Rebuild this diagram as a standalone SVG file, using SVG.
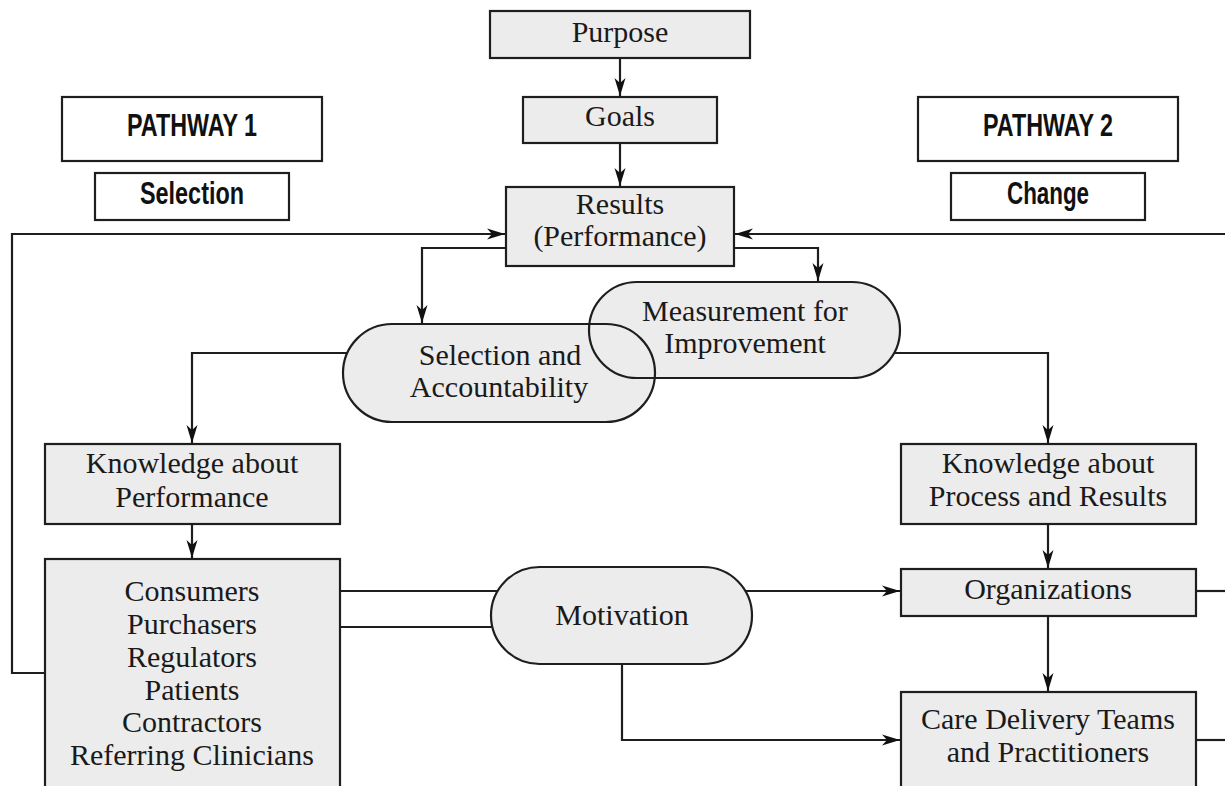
<svg xmlns="http://www.w3.org/2000/svg" width="1225" height="786" viewBox="0 0 1225 786">
<style>
.box{fill:#ececec;stroke:#1e1e1e;stroke-width:2.2}
.hdr{fill:#fff;stroke:#1e1e1e;stroke-width:2.2}
.edge{fill:none;stroke:#1e1e1e;stroke-width:2.2}
.t{font-family:"Liberation Serif","Times New Roman",serif;font-size:30px;fill:#1a1a1a;text-anchor:middle}
.h{font-family:"Liberation Sans Narrow","Liberation Sans",Arial,sans-serif;font-weight:bold;font-size:31px;fill:#111;text-anchor:middle}
</style>
<defs>
<marker id="arr" markerUnits="userSpaceOnUse" markerWidth="20" markerHeight="14" refX="18" refY="7" orient="auto">
<path d="M0,1.5 L18,7 L0,12.5 L5,7 z" fill="#111"/>
</marker>
</defs>
<rect width="1225" height="786" fill="#fff"/>
<g id="connectors">
<path class="edge" d="M620,58 V96" marker-end="url(#arr)"/>
<path class="edge" d="M620,143 V186" marker-end="url(#arr)"/>
<path class="edge" d="M45,673 H12 V234 H505" marker-end="url(#arr)"/>
<path class="edge" d="M1225,234 H735" marker-end="url(#arr)"/>
<path class="edge" d="M506,248 H422 V323" marker-end="url(#arr)"/>
<path class="edge" d="M734,248 H818 V281" marker-end="url(#arr)"/>
<path class="edge" d="M360,353 H192 V443" marker-end="url(#arr)"/>
<path class="edge" d="M880,353 H1048 V443" marker-end="url(#arr)"/>
<path class="edge" d="M192,524 V558" marker-end="url(#arr)"/>
<path class="edge" d="M1048,524 V568" marker-end="url(#arr)"/>
<path class="edge" d="M1048,616 V691" marker-end="url(#arr)"/>
<path class="edge" d="M340,591 H520"/>
<path class="edge" d="M340,627 H520"/>
<path class="edge" d="M730,591 H900" marker-end="url(#arr)"/>
<path class="edge" d="M622,650 V740 H900" marker-end="url(#arr)"/>
<path class="edge" d="M1196,591 H1225"/>
<path class="edge" d="M1196,740 H1225"/>
</g>
<g id="purpose"><rect class="box" x="490" y="11" width="260" height="47"/><text class="t" x="620" y="42">Purpose</text></g>
<g id="goals"><rect class="box" x="523" y="97" width="194" height="46"/><text class="t" x="620" y="126">Goals</text></g>
<g id="results"><rect class="box" x="506" y="187" width="228" height="79"/><text class="t" x="620" y="214">Results</text><text class="t" x="620" y="246">(Performance)</text></g>
<g id="pathway1"><rect class="hdr" x="62" y="97" width="260" height="64"/><text class="h" x="192" y="136" textLength="130" lengthAdjust="spacingAndGlyphs">PATHWAY 1</text></g>
<g id="selection"><rect class="hdr" x="95" y="173" width="194" height="47"/><text class="h" x="192" y="204" textLength="104" lengthAdjust="spacingAndGlyphs">Selection</text></g>
<g id="pathway2"><rect class="hdr" x="918" y="97" width="260" height="64"/><text class="h" x="1048" y="136" textLength="130" lengthAdjust="spacingAndGlyphs">PATHWAY 2</text></g>
<g id="change"><rect class="hdr" x="951" y="173" width="194" height="47"/><text class="h" x="1048" y="204" textLength="82" lengthAdjust="spacingAndGlyphs">Change</text></g>
<g id="ovals-fill">
<rect x="343" y="324" width="312" height="98" rx="49" fill="#ececec"/>
<rect x="589" y="282" width="311" height="96" rx="48" fill="#ececec"/>
</g>
<g id="selection-accountability"><rect class="edge" x="343" y="324" width="312" height="98" rx="49"/><text class="t" x="500" y="365">Selection and</text><text class="t" x="499" y="397">Accountability</text></g>
<g id="measurement"><rect class="edge" x="589" y="282" width="311" height="96" rx="48"/><text class="t" x="745" y="321">Measurement for</text><text class="t" x="745" y="353">Improvement</text></g>
<g id="knowledge-performance"><rect class="box" x="45" y="444" width="295" height="80"/><text class="t" x="192" y="473">Knowledge about</text><text class="t" x="192" y="507">Performance</text></g>
<g id="knowledge-process"><rect class="box" x="901" y="444" width="295" height="80"/><text class="t" x="1048" y="473">Knowledge about</text><text class="t" x="1048" y="506">Process and Results</text></g>
<g id="stakeholders"><rect class="box" x="45" y="559" width="295" height="250"/>
<text class="t" x="192" y="601">Consumers</text>
<text class="t" x="192" y="634">Purchasers</text>
<text class="t" x="192" y="667">Regulators</text>
<text class="t" x="192" y="700">Patients</text>
<text class="t" x="192" y="732">Contractors</text>
<text class="t" x="192" y="765">Referring Clinicians</text></g>
<g id="motivation"><rect class="box" x="491" y="567" width="261" height="97" rx="48.5"/><text class="t" x="622" y="625">Motivation</text></g>
<g id="organizations"><rect class="box" x="901" y="569" width="295" height="47"/><text class="t" x="1048" y="599">Organizations</text></g>
<g id="care-teams"><rect class="box" x="901" y="692" width="295" height="120"/><text class="t" x="1048" y="729">Care Delivery Teams</text><text class="t" x="1048" y="762">and Practitioners</text></g>
</svg>
